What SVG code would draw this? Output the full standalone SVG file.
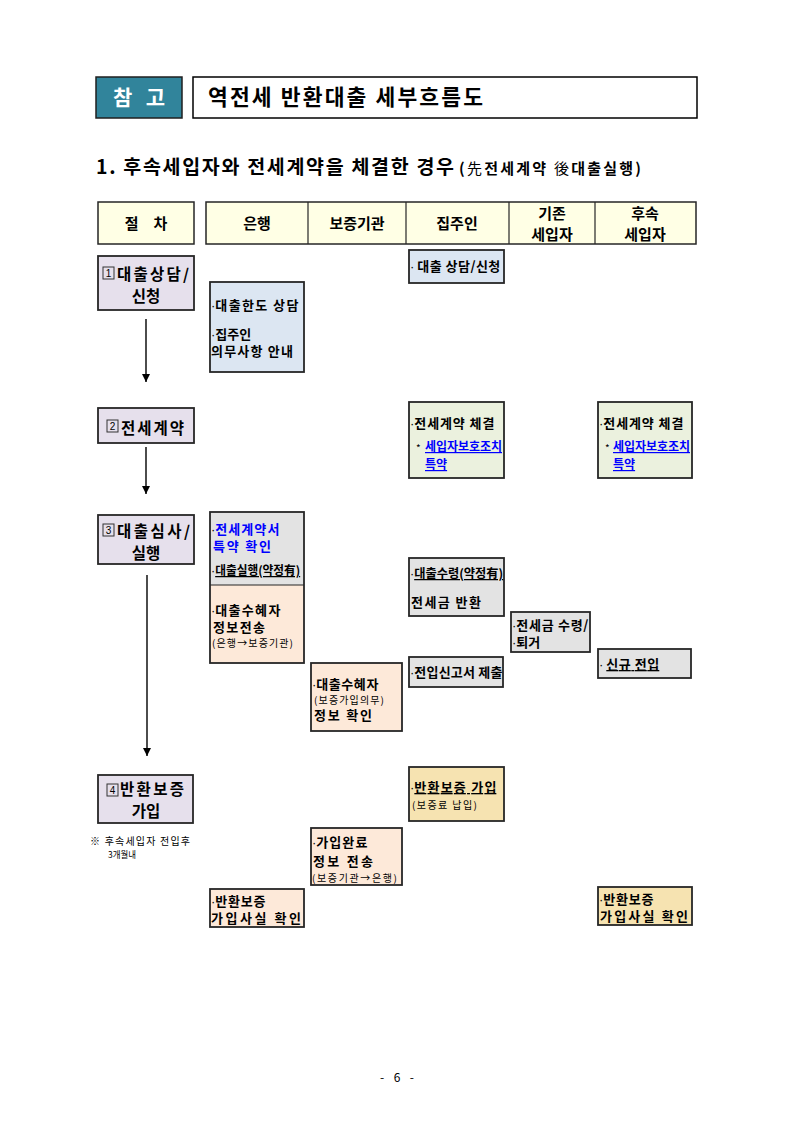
<svg xmlns="http://www.w3.org/2000/svg" width="793" height="1121" viewBox="0 0 793 1121">
<style>
.t{font-family:"Noto Sans CJK KR","Noto Sans",sans-serif;font-weight:700;fill:#000}
.n{font-family:"Noto Sans CJK KR","Noto Sans",sans-serif;font-weight:400;fill:#000}
.dot{font-family:"Liberation Sans",sans-serif;font-weight:400}
.b13{font-size:13px}
.sm{font-size:10px}
.step{font-size:15.5px}
.hd{font-size:15px}
.bx{stroke:#262626;stroke-width:1.8}
.purple{fill:#E6E0EC}
.blue{fill:#DCE6F2}
.green{fill:#EBF1DE}
.gray{fill:#E3E3E3}
.peach{fill:#FDE9D9}
.tan{fill:#F6E3B1}
.cream{fill:#FFFFE5}
.u{text-decoration:underline}
.num{fill:none;stroke:#333;stroke-width:1}
.numt{font-family:"Liberation Sans",sans-serif;font-size:10px;fill:#000}
.conn{stroke:#000;stroke-width:1.4;fill:none}
</style>
<defs>
<marker id="ah" viewBox="0 0 10 10" refX="10" refY="5" markerWidth="8" markerHeight="8" markerUnits="userSpaceOnUse" orient="auto">
<path d="M0,0 L10,5 L0,10 z" fill="#000"/>
</marker>
</defs>

<g id="title">
<rect x="96" y="77" width="86" height="41" fill="#31849B" stroke="#1f1f1f" stroke-width="1.5"/>
<text x="113" y="105" class="t" font-size="21" style="fill:#fff" textLength="52" lengthAdjust="spacing">참 고</text>
<rect x="193" y="77" width="504" height="41" fill="#fff" stroke="#000" stroke-width="1.5"/>
<text x="208" y="105" class="t" font-size="21.5" textLength="275" lengthAdjust="spacing">역전세 반환대출 세부흐름도</text>
</g>

<g id="heading">
<text x="96" y="174" class="t" font-size="19.5" textLength="358" lengthAdjust="spacing">1. 후속세입자와 전세계약을 체결한 경우</text>
<text x="459" y="174" class="t" font-size="15" textLength="182" lengthAdjust="spacing">(<tspan class="n">先</tspan>전세계약 <tspan class="n">後</tspan>대출실행)</text>
</g>

<g id="header">
<rect x="98" y="202" width="96" height="42" class="cream" stroke="#262626" stroke-width="1.5"/>
<text x="146" y="229" text-anchor="middle" class="t hd">절　차</text>
<rect x="206" y="202" width="490" height="42" class="cream" stroke="#262626" stroke-width="1.5"/>
<line x1="308" y1="202" x2="308" y2="244" stroke="#262626" stroke-width="1.2"/>
<line x1="406" y1="202" x2="406" y2="244" stroke="#262626" stroke-width="1.2"/>
<line x1="509" y1="202" x2="509" y2="244" stroke="#262626" stroke-width="1.2"/>
<line x1="595" y1="202" x2="595" y2="244" stroke="#262626" stroke-width="1.2"/>
<text x="257" y="229" text-anchor="middle" class="t hd">은행</text>
<text x="357" y="229" text-anchor="middle" class="t hd">보증기관</text>
<text x="457" y="229" text-anchor="middle" class="t hd">집주인</text>
<text x="552" y="218.5" text-anchor="middle" class="t hd">기존</text>
<text x="552" y="240" text-anchor="middle" class="t hd">세입자</text>
<text x="645" y="218.5" text-anchor="middle" class="t hd">후속</text>
<text x="645" y="240" text-anchor="middle" class="t hd">세입자</text>
</g>

<g id="step1">
<rect x="98" y="256" width="96" height="54" class="bx purple"/>
<rect x="103" y="267" width="11" height="12" class="num"/>
<text x="108.5" y="277" text-anchor="middle" class="numt">1</text>
<text x="117" y="280" class="t step" textLength="72" lengthAdjust="spacing">대출상담/</text>
<text x="146" y="302" text-anchor="middle" class="t step">신청</text>
</g>

<g id="step2">
<rect x="98" y="408" width="96" height="35" class="bx purple"/>
<rect x="107" y="420" width="11" height="12" class="num"/>
<text x="112.5" y="430" text-anchor="middle" class="numt">2</text>
<text x="121" y="434" class="t step" textLength="63" lengthAdjust="spacing">전세계약</text>
</g>

<g id="step3">
<rect x="98" y="515" width="96" height="49" class="bx purple"/>
<rect x="103" y="524" width="11" height="12" class="num"/>
<text x="108.5" y="534" text-anchor="middle" class="numt">3</text>
<text x="117" y="537" class="t step" textLength="73" lengthAdjust="spacing">대출심사/</text>
<text x="146" y="559" text-anchor="middle" class="t step">실행</text>
</g>

<g id="step4">
<rect x="98" y="775" width="95" height="48" class="bx purple"/>
<rect x="107" y="784" width="11" height="12" class="num"/>
<text x="112.5" y="794" text-anchor="middle" class="numt">4</text>
<text x="120" y="795" class="t step" textLength="64" lengthAdjust="spacing">반환보증</text>
<text x="146" y="817" text-anchor="middle" class="t step">가입</text>
</g>

<g id="note">
<text x="90" y="845" class="n" font-size="10" textLength="100" lengthAdjust="spacing">※ 후속세입자 전입후</text>
<text x="108" y="858" class="n" font-size="9.5" textLength="28" lengthAdjust="spacingAndGlyphs">3개월내</text>
</g>

<g id="bank1">
<rect x="210" y="282" width="94" height="90" class="bx blue"/>
<text x="211" y="310" class="t b13"><tspan class="dot">·</tspan><tspan textLength="83" lengthAdjust="spacing">대출한도 상담</tspan></text>
<text x="211" y="339" class="t b13"><tspan class="dot">·</tspan>집주인</text>
<text x="211" y="356" class="t b13" textLength="82" lengthAdjust="spacing">의무사항 안내</text>
</g>

<g id="landlord1">
<rect x="409" y="250" width="95" height="33" class="bx blue"/>
<text x="410" y="271" class="t" font-size="13"><tspan class="dot">·</tspan> <tspan textLength="83" lengthAdjust="spacing">대출 상담/신청</tspan></text>
</g>

<g id="landlord2">
<rect x="409" y="402" width="95" height="76" class="bx green"/>
<text x="410" y="428" class="t b13"><tspan class="dot">·</tspan><tspan textLength="80" lengthAdjust="spacing">전세계약 체결</tspan></text>
<text x="416" y="452" class="n" font-size="10">*</text>
<text x="425" y="451" class="t u" font-size="12" style="fill:#0000FF" textLength="77" lengthAdjust="spacing">세입자보호조치</text>
<text x="425" y="469" class="t u" font-size="12" style="fill:#0000FF">특약</text>
</g>

<g id="tenant2">
<rect x="598" y="402" width="94" height="76" class="bx green"/>
<text x="599" y="428" class="t b13"><tspan class="dot">·</tspan><tspan textLength="80" lengthAdjust="spacing">전세계약 체결</tspan></text>
<text x="605" y="452" class="n" font-size="10">*</text>
<text x="613" y="451" class="t u" font-size="12" style="fill:#0000FF" textLength="77" lengthAdjust="spacing">세입자보호조치</text>
<text x="613" y="469" class="t u" font-size="12" style="fill:#0000FF">특약</text>
</g>

<g id="bank3">
<rect x="210" y="512" width="94" height="73" class="gray"/>
<rect x="210" y="585" width="94" height="78" class="peach"/>
<rect x="210" y="512" width="94" height="151" class="bx" fill="none"/>
<line x1="210" y1="585" x2="304" y2="585" stroke="#262626" stroke-width="1.2"/>
<text x="211" y="534" class="t b13" style="fill:#0000FF"><tspan class="dot" style="fill:#000">·</tspan><tspan textLength="64" lengthAdjust="spacing">전세계약서</tspan></text>
<text x="213" y="551" class="t b13" style="fill:#0000FF" textLength="58" lengthAdjust="spacing">특약 확인</text>
<text x="211" y="575" class="t" font-size="12.5"><tspan class="dot">·</tspan><tspan class="u" textLength="85" lengthAdjust="spacingAndGlyphs">대출실행(약정有)</tspan></text>
<text x="211" y="615" class="t b13"><tspan class="dot">·</tspan><tspan textLength="65" lengthAdjust="spacing">대출수혜자</tspan></text>
<text x="213" y="632" class="t b13" textLength="52" lengthAdjust="spacing">정보전송</text>
<text x="212" y="647" class="n sm" textLength="81" lengthAdjust="spacing">(은행→보증기관)</text>
</g>

<g id="landlord3">
<rect x="409" y="558" width="95" height="58" class="bx gray"/>
<text x="410" y="578" class="t" font-size="12.5"><tspan class="dot">·</tspan><tspan class="u" textLength="89" lengthAdjust="spacingAndGlyphs">대출수령(약정有)</tspan></text>
<text x="411" y="607" class="t b13" textLength="70" lengthAdjust="spacing">전세금 반환</text>
</g>

<g id="oldtenant">
<rect x="511" y="612" width="79" height="40" class="bx gray"/>
<text x="512" y="630" class="t" font-size="13"><tspan class="dot">·</tspan><tspan textLength="72" lengthAdjust="spacing">전세금 수령/</tspan></text>
<text x="512" y="647" class="t" font-size="13"><tspan class="dot">·</tspan>퇴거</text>
</g>

<g id="tenant3">
<rect x="598" y="649" width="93" height="29" class="bx gray"/>
<text x="599" y="669" class="t b13"><tspan class="dot">·</tspan> <tspan class="u" textLength="53" lengthAdjust="spacing">신규 전입</tspan></text>
</g>

<g id="landlord4">
<rect x="409" y="657" width="94" height="30" class="bx gray"/>
<text x="410" y="677" class="t" font-size="13"><tspan class="dot">·</tspan><tspan textLength="88" lengthAdjust="spacing">전입신고서 제출</tspan></text>
</g>

<g id="guar1">
<rect x="311" y="663" width="91" height="68" class="bx peach"/>
<text x="312" y="689" class="t b13"><tspan class="dot">·</tspan><tspan textLength="62" lengthAdjust="spacing">대출수혜자</tspan></text>
<text x="314" y="704" class="n sm" textLength="70" lengthAdjust="spacing">(보증가입의무)</text>
<text x="314" y="720" class="t b13" textLength="58" lengthAdjust="spacing">정보 확인</text>
</g>

<g id="landlord5">
<rect x="409" y="767" width="95" height="54" class="bx tan"/>
<text x="410" y="792" class="t b13"><tspan class="dot">·</tspan><tspan class="u" textLength="82" lengthAdjust="spacing">반환보증 가입</tspan></text>
<text x="412" y="809" class="n sm" textLength="65" lengthAdjust="spacing">(보증료 납입)</text>
</g>

<g id="guar2">
<rect x="311" y="828" width="91" height="57" class="bx peach"/>
<text x="312" y="847" class="t b13"><tspan class="dot">·</tspan><tspan textLength="51" lengthAdjust="spacing">가입완료</tspan></text>
<text x="313" y="866" class="t b13" textLength="60" lengthAdjust="spacing">정보 전송</text>
<text x="312" y="882" class="n sm" textLength="85" lengthAdjust="spacing">(보증기관→은행)</text>
</g>

<g id="bank4">
<rect x="210" y="889" width="94" height="38" class="bx peach"/>
<text x="211" y="906" class="t b13"><tspan class="dot">·</tspan><tspan textLength="50" lengthAdjust="spacing">반환보증</tspan></text>
<text x="211" y="923" class="t b13" textLength="90" lengthAdjust="spacing">가입사실 확인</text>
</g>

<g id="tenant4">
<rect x="598" y="887" width="94" height="38" class="bx tan"/>
<text x="599" y="904" class="t b13"><tspan class="dot">·</tspan><tspan textLength="50" lengthAdjust="spacing">반환보증</tspan></text>
<text x="600" y="921" class="t b13" textLength="88" lengthAdjust="spacing">가입사실 확인</text>
</g>

<g id="connectors">
<line x1="146" y1="319" x2="146" y2="382" class="conn" marker-end="url(#ah)"/>
<line x1="146" y1="447" x2="146" y2="494" class="conn" marker-end="url(#ah)"/>
<line x1="147" y1="575" x2="147" y2="756" class="conn" marker-end="url(#ah)"/>
</g>

<g id="page">
<text x="397" y="1082" text-anchor="middle" class="n" font-size="12" textLength="34" lengthAdjust="spacing">- 6 -</text>
</g>
</svg>
